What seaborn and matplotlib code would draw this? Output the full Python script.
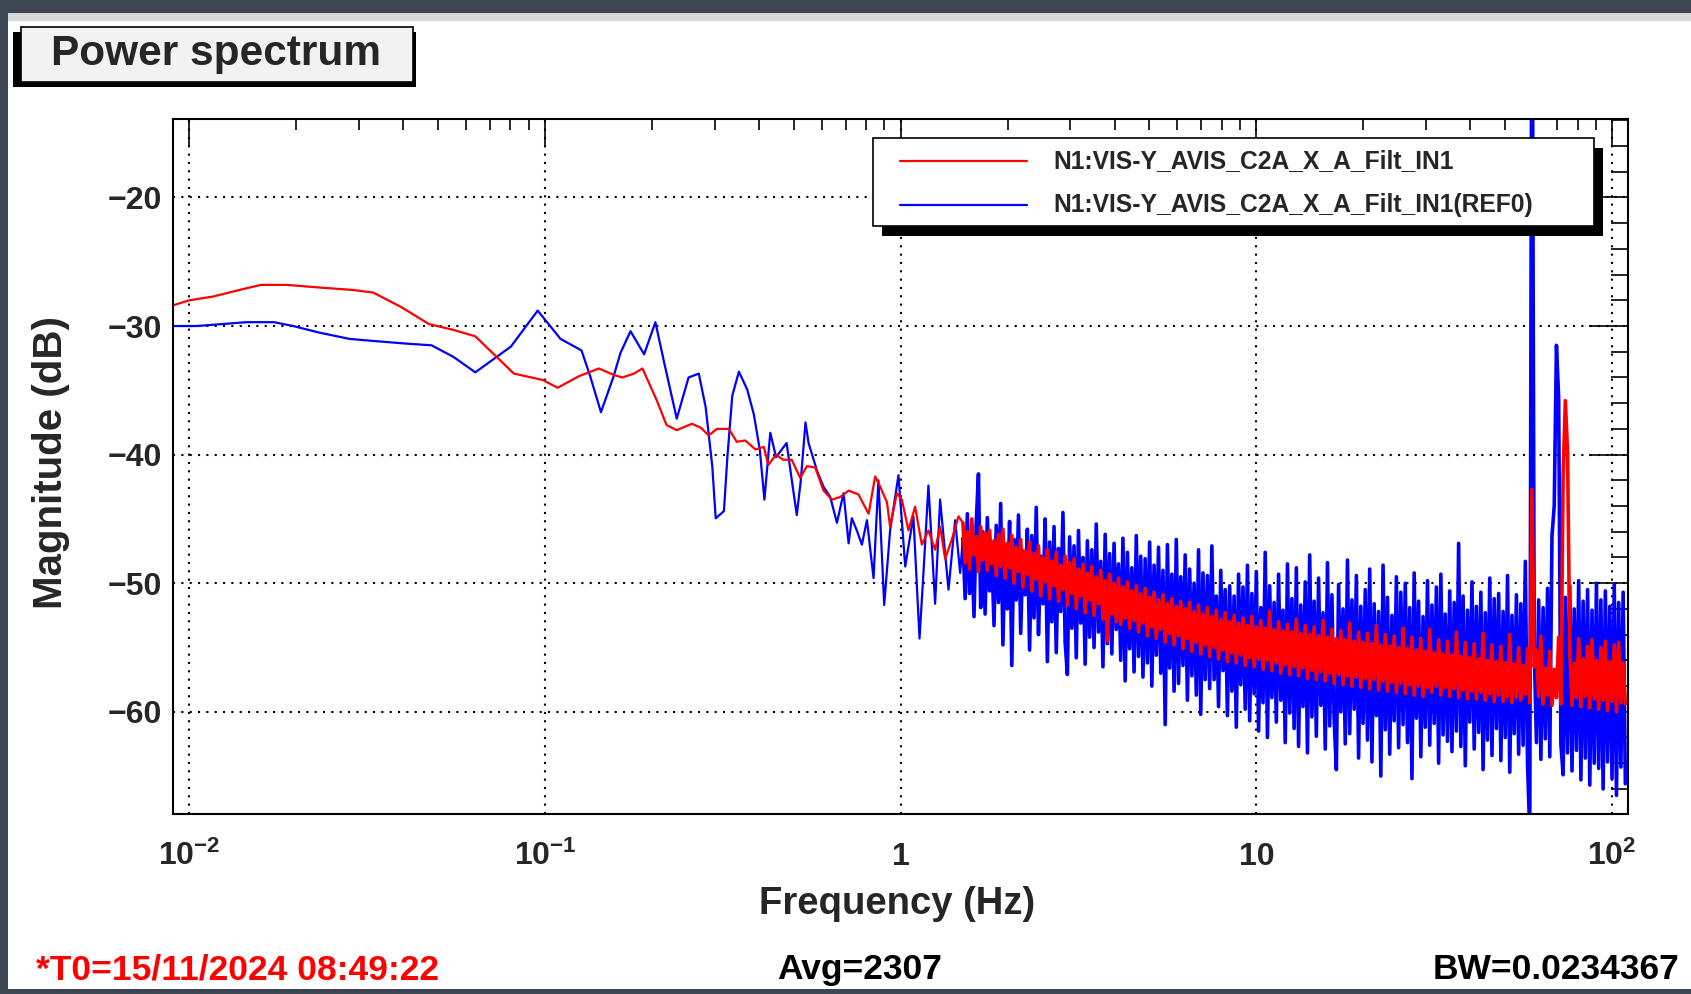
import numpy as np
import pandas as pd
import matplotlib
matplotlib.use("Agg")
import matplotlib.pyplot as plt
from matplotlib.patches import Rectangle
from matplotlib.lines import Line2D
from matplotlib.ticker import FixedLocator, MultipleLocator, LogLocator, NullFormatter
import seaborn as sns

W, H = 1691, 994

# ---------------- data ----------------
# low-frequency part, explicit points
red_lo_freq = [0.0085, 0.010, 0.0117, 0.0138, 0.0159, 0.0188, 0.0231, 0.0290, 0.0329, 0.0393,
               0.0472, 0.0553, 0.0637, 0.0818, 0.0987, 0.1085, 0.1247, 0.1418, 0.156, 0.165,
               0.178, 0.188, 0.206, 0.2197, 0.2347, 0.2587, 0.274, 0.2885, 0.3047, 0.3289,
               0.346, 0.3657, 0.3908, 0.4124, 0.4247, 0.4464, 0.4674, 0.494, 0.5218, 0.5452,
               0.575, 0.607, 0.6408, 0.676, 0.714, 0.761, 0.8126, 0.848, 0.876, 0.915,
               0.934, 0.976, 1.008, 1.052, 1.098, 1.147, 1.197, 1.25, 1.291, 1.334,
               1.393, 1.454]
red_lo_db = [-28.6, -28.0, -27.7, -27.2, -26.8, -26.8, -27.0, -27.2, -27.4, -28.5,
             -29.85, -30.3, -30.8, -33.7, -34.2, -34.8, -33.9, -33.3, -33.8, -34.0,
             -33.7, -33.3, -35.75, -37.7, -38.1, -37.6, -37.9, -38.5, -38.0, -38.0,
             -39.0, -38.9, -39.6, -39.4, -40.8, -40.0, -40.4, -40.4, -41.8, -40.9,
             -41.0, -42.8, -43.5, -43.3, -42.8, -43.1, -44.6, -41.7, -42.5, -43.7,
             -45.6, -43.0, -43.5, -45.9, -44.05, -47.0, -45.9, -47.4, -45.6, -48.1,
             -46.6, -44.8]

blue_lo_freq = [0.0085, 0.0105, 0.0145, 0.0173, 0.0196, 0.0231, 0.0282, 0.031, 0.040, 0.048,
                0.0553, 0.0637, 0.0802, 0.0954, 0.1106, 0.1267, 0.134, 0.1437, 0.156, 0.163,
                0.174, 0.190, 0.2044, 0.2154, 0.2347, 0.2534, 0.2707, 0.283, 0.2954, 0.302,
                0.3185, 0.3257, 0.3363, 0.351, 0.3705, 0.3868, 0.4017, 0.414, 0.430, 0.4464,
                0.478, 0.4944, 0.5105, 0.524, 0.540, 0.551, 0.581, 0.607, 0.634, 0.662,
                0.691, 0.714, 0.729, 0.753, 0.778, 0.804, 0.839, 0.866, 0.899, 0.934,
                0.986, 1.03, 1.086, 1.13, 1.159, 1.197, 1.25, 1.291, 1.363, 1.423,
                1.47]
blue_lo_db = [-30.0, -30.0, -29.7, -29.7, -30.0, -30.5, -31.0, -31.1, -31.35, -31.5,
              -32.4, -33.6, -31.6, -28.8, -31.0, -31.9, -33.9, -36.7, -33.9, -32.1,
              -30.4, -32.2, -29.7, -32.6, -37.2, -34.0, -33.7, -36.3, -40.9, -44.95,
              -44.4, -40.2, -35.4, -33.55, -34.95, -36.9, -39.6, -43.5, -38.3, -40.2,
              -39.1, -42.0, -44.7, -42.0, -37.5, -39.1, -41.2, -42.5, -43.3, -45.3,
              -43.0, -46.9, -44.95, -45.9, -47.0, -45.1, -49.6, -42.0, -51.7, -45.9,
              -41.6, -48.7, -44.8, -54.3, -49.2, -42.4, -51.6, -43.5, -50.5, -45.1,
              -49.2]

# dense part: values on a log frequency grid of 160 points per decade,
# starting at grid index DENSE_K0 (1.5 Hz)
DENSE_K0 = 28
POINTS_PER_DECADE = 160
red_dense_db = [
    -45.3, -48.4, -46.0, -48.9, -45.0, -47.8, -46.4, -49.1, -45.6, -48.2,
    -46.1, -49.0, -45.9, -48.5, -46.7, -49.4, -46.2, -48.7, -45.8, -49.6,
    -46.9, -48.8, -46.3, -50.0, -47.2, -49.1, -46.6, -50.3, -47.5, -49.3,
    -46.8, -50.6, -47.7, -49.7, -47.1, -51.0, -48.0, -49.9, -47.4, -51.2,
    -48.3, -50.2, -47.6, -51.4, -48.6, -50.5, -47.9, -51.7, -48.4, -50.8,
    -48.1, -52.0, -48.9, -51.0, -48.5, -52.3, -49.2, -51.3, -48.7, -52.5,
    -49.5, -51.6, -49.0, -52.8, -49.8, -54.5, -49.3, -52.4, -50.0, -53.0,
    -49.6, -53.2, -50.3, -52.7, -49.9, -53.5, -50.6, -52.9, -50.2, -53.8,
    -50.8, -53.1, -50.4, -54.1, -51.1, -53.4, -50.7, -54.3, -51.3, -53.6,
    -50.9, -54.6, -51.6, -53.9, -51.2, -54.8, -51.8, -54.1, -51.4, -55.1,
    -52.0, -54.3, -51.5, -55.3, -52.2, -54.6, -51.7, -55.5, -52.4, -54.8,
    -51.9, -55.7, -52.6, -55.0, -52.1, -55.9, -52.8, -55.2, -52.3, -56.1,
    -53.0, -55.4, -52.5, -56.2, -53.1, -55.6, -52.7, -56.4, -53.3, -55.8,
    -52.6, -56.5, -53.4, -55.9, -52.9, -56.7, -53.5, -56.0, -52.2, -56.8,
    -53.6, -56.2, -53.0, -57.0, -53.7, -56.3, -53.2, -57.1, -53.8, -56.5,
    -52.8, -57.2, -53.9, -56.6, -53.3, -57.4, -54.0, -56.8, -53.4, -57.5,
    -54.1, -56.9, -52.9, -57.6, -54.2, -57.0, -53.6, -57.8, -54.3, -57.1,
    -53.7, -57.9, -54.4, -57.2, -53.1, -58.0, -54.5, -57.3, -53.8, -58.1,
    -54.6, -57.4, -53.9, -58.2, -54.7, -57.5, -53.3, -58.3, -54.8, -57.6,
    -54.0, -58.4, -54.9, -57.7, -54.1, -58.5, -55.0, -57.8, -53.5, -58.6,
    -55.1, -57.9, -54.2, -58.7, -55.2, -58.0, -54.3, -58.8, -55.3, -58.1,
    -53.6, -58.5, -55.4, -58.0, -54.4, -58.7, -55.5, -58.1, -54.5, -58.8,
    -55.6, -58.2, -53.8, -58.9, -55.7, -58.3, -54.6, -59.0, -55.8, -58.4,
    -54.7, -59.0, -55.9, -58.5, -53.9, -59.1, -56.0, -58.6, -54.8, -59.2,
    -56.1, -58.7, -54.9, -59.2, -56.2, -58.8, -54.0, -59.3, -56.3, -58.9,
    -55.0, -59.1, -56.4, -58.6, -55.1, -59.3, -42.7, -56.5, -55.2, -58.8,
    -54.1, -59.4, -56.6, -58.7, -55.3, -59.5, -56.7, -58.9, -54.2, -59.4,
    -41.7, -35.8, -39.8, -55.4, -59.5, -56.2, -58.9, -54.3, -59.6, -55.9,
    -58.8, -54.9, -59.7, -54.4, -59.0, -56.0, -59.8, -55.0, -59.1, -54.5,
    -59.9, -56.1, -59.2, -54.8, -60.0, -54.6, -59.3, -56.2, -59.4]
blue_dense_db = [
    -46.5, -51.2, -44.6, -50.8, -47.2, -52.6, -45.3, -41.5, -51.9, -46.0,
    -52.4, -44.9, -50.6, -47.8, -53.3, -45.5, -51.5, -43.8, -54.8, -47.0,
    -52.0, -45.2, -56.4, -46.6, -51.3, -44.7, -53.9, -47.5, -50.9, -45.8,
    -55.2, -46.3, -52.7, -44.1, -54.0, -47.9, -51.6, -45.0, -56.1, -46.8,
    -53.0, -45.6, -55.4, -47.3, -52.2, -44.5, -54.6, -57.1, -46.4, -53.5,
    -47.1, -55.8, -45.9, -53.1, -48.0, -56.3, -46.7, -54.2, -47.4, -55.0,
    -45.4, -53.8, -48.3, -56.5, -46.2, -54.7, -47.7, -55.5, -46.9, -53.6,
    -48.5, -56.0, -46.5, -57.6, -47.6, -55.1, -48.8, -56.9, -46.3, -55.7,
    -47.9, -57.3, -48.1, -56.2, -46.8, -58.0, -48.6, -55.6, -47.2, -57.0,
    -49.0, -61.0, -47.0, -56.6, -49.3, -58.4, -46.6, -57.8, -49.5, -56.4,
    -47.8, -59.1, -48.9, -57.2, -50.0, -58.7, -47.4, -60.2, -49.2, -57.5,
    -49.4, -58.2, -47.1, -57.5, -51.0, -59.6, -49.0, -56.8, -50.5, -60.3,
    -50.2, -58.4, -51.0, -61.2, -49.3, -57.9, -50.3, -59.8, -48.6, -60.7,
    -50.8, -58.6, -49.1, -61.5, -51.9, -59.3, -47.6, -62.0, -50.2, -58.9,
    -51.5, -60.8, -49.3, -59.1, -52.1, -62.4, -48.5, -60.1, -51.2, -61.3,
    -48.8, -62.7, -51.7, -59.6, -49.9, -63.2, -47.8, -60.4, -51.4, -61.9,
    -49.6, -59.5, -52.3, -62.9, -48.4, -61.1, -50.9, -60.6, -64.5, -50.1,
    -60.0, -52.0, -62.5, -48.2, -61.7, -51.3, -59.8, -49.4, -63.6, -51.8,
    -60.9, -50.5, -62.2, -48.9, -63.9, -51.6, -60.3, -52.2, -65.0, -48.6,
    -61.4, -51.1, -63.3, -52.5, -60.7, -49.5, -62.8, -50.7, -61.0, -50.0,
    -62.4, -51.9, -65.2, -49.2, -60.5, -51.4, -63.5, -52.6, -61.2, -49.8,
    -62.6, -51.7, -60.9, -50.3, -64.0, -49.3, -61.8, -52.4, -62.3, -50.6,
    -63.1, -51.5, -61.5, -46.9, -62.7, -51.0, -64.2, -52.1, -60.8, -49.9,
    -62.9, -51.8, -61.6, -50.7, -64.5, -52.3, -62.2, -49.6, -63.4, -51.2,
    -61.3, -50.8, -63.8, -52.2, -62.0, -49.4, -64.7, -52.5, -61.7, -50.9,
    -63.3, -51.6, -62.6, -48.3, -64.1, -69.5, 5.0, -55.0, -62.4, -51.3,
    -63.7, -51.9, -62.1, -50.4, -63.5, -46.3, -44.0, -31.5, -35.6, -62.5,
    -64.9, -51.1, -63.2, -50.2, -64.6, -52.0, -63.0, -49.8, -65.3, -51.4,
    -63.6, -50.5, -65.7, -52.1, -64.0, -50.0, -64.4, -51.3, -66.0, -50.6,
    -63.9, -51.8, -65.2, -50.1, -66.5, -51.5, -64.3, -50.7, -65.6]

series_names = ["N1:VIS-Y_AVIS_C2A_X_A_Filt_IN1", "N1:VIS-Y_AVIS_C2A_X_A_Filt_IN1(REF0)"]
series_colors = ["#ff0000", "#0000ff"]
x_tick_vals = [0.01, 0.1, 1, 10, 100]
x_tick_labels = [r"$10^{-2}$", r"$10^{-1}$", "1", "10", r"$10^{2}$"]
y_tick_vals = [-60, -50, -40, -30, -20]
title_text = "Power spectrum"
x_label = "Frequency (Hz)"
y_label = "Magnitude (dB)"
footer_t0 = "*T0=15/11/2024 08:49:22"
footer_avg = "Avg=2307"
footer_bw = "BW=0.0234367"

# ---------------- style ----------------
sns.set_style("white")
plt.rcParams['font.family'] = ['Liberation Sans', 'DejaVu Sans']
plt.rcParams['font.weight'] = 'bold'
plt.rcParams['mathtext.fontset'] = 'custom'
for k in ['rm', 'it', 'bf', 'sf']:
    plt.rcParams['mathtext.' + k] = 'Liberation Sans:bold'
plt.rcParams['axes.unicode_minus'] = True

dense_freq = 10 ** ((DENSE_K0 + np.arange(len(red_dense_db))) / POINTS_PER_DECADE)


def frames(lo_f, lo_db, dense_db):
    lo = pd.DataFrame({'freq': list(lo_f) + [dense_freq[0]],
                       'db': list(lo_db) + [dense_db[0]]})
    hi = pd.DataFrame({'freq': dense_freq[:len(dense_db)], 'db': dense_db})
    return lo, hi


red_lo_df, red_hi_df = frames(red_lo_freq, red_lo_db, red_dense_db)
blue_lo_df, blue_hi_df = frames(blue_lo_freq, blue_lo_db, blue_dense_db)

fig = plt.figure(figsize=(W / 100, H / 100), dpi=100, facecolor='#3d4653')


def rect(x0, y0, x1, y1, **kw):
    return Rectangle((x0 / W, 1 - y1 / H), (x1 - x0) / W, (y1 - y0) / H,
                     transform=fig.transFigure, **kw)


# canvas
fig.add_artist(rect(8, 13, W + 2, 989, facecolor='white', edgecolor='none', zorder=-5))
fig.add_artist(rect(8, 13, W + 2, 21, facecolor='#d8d8d8', edgecolor='none', zorder=-4))

ax = fig.add_axes([173 / W, 1 - 814 / H, 1455 / W, 695.5 / H])
ax.set_facecolor('white')

for lo_df, hi_df, col in [(blue_lo_df, blue_hi_df, series_colors[1]),
                          (red_lo_df, red_hi_df, series_colors[0])]:
    sns.lineplot(data=lo_df, x='freq', y='db', color=col, lw=1.6,
                 estimator=None, sort=False, ax=ax)
    sns.lineplot(data=hi_df, x='freq', y='db', color=col, lw=2.6,
                 estimator=None, sort=False, ax=ax)

ax.set_xscale('log')
ax.set_xlim(0.009, 110.9)
ax.set_ylim(-67.95, -13.86)

ax.xaxis.set_major_locator(FixedLocator(x_tick_vals))
ax.set_xticklabels(x_tick_labels)
ax.xaxis.set_minor_locator(LogLocator(base=10, subs=np.arange(2, 10), numticks=30))
ax.xaxis.set_minor_formatter(NullFormatter())
ax.yaxis.set_major_locator(FixedLocator(y_tick_vals))
ax.yaxis.set_minor_locator(MultipleLocator(2))

ax.tick_params(which='both', direction='in', top=True, right=True, color='black', width=1.2)
ax.tick_params(axis='x', which='major', length=19.4, pad=36.5, labelsize=23)
ax.tick_params(axis='x', which='minor', length=7.8)
ax.tick_params(axis='y', which='major', length=28, pad=8, labelsize=23)
ax.tick_params(axis='y', which='minor', length=12.5)
for lab in ax.get_xticklabels():
    lab.set_verticalalignment('baseline')
    lab.set_fontweight('bold')
for lab in ax.get_yticklabels():
    lab.set_fontweight('bold')

ax.grid(True, which='major', color='black', linestyle=(0, (1, 3)), linewidth=1.5)
ax.set_axisbelow(True)
for s in ax.spines.values():
    s.set_linewidth(1.5)
    s.set_color('black')

ax.set_xlabel(x_label, fontsize=27.5, fontweight='bold')
ax.xaxis.set_label_coords(0.4976, -0.1294)
ax.xaxis.label.set_verticalalignment('center')
ax.set_ylabel(y_label, fontsize=29, fontweight='bold')
ax.yaxis.set_label_coords(-0.0841, 0.5053)
ax.yaxis.label.set_verticalalignment('center')

# title box with shadow
fig.add_artist(rect(13, 32, 416, 87, facecolor='black', edgecolor='none', zorder=5))
fig.add_artist(rect(21, 27, 413, 82, facecolor='#f2f2f2', edgecolor='black', lw=1.2, zorder=6))
fig.text(216 / W, 1 - 65 / H, title_text, fontsize=30.5, fontweight='bold',
         ha='center', va='baseline', zorder=7)

# legend box with shadow
fig.add_artist(rect(882, 148, 1603, 236, facecolor='black', edgecolor='none', zorder=5))
fig.add_artist(rect(873, 138, 1594, 226, facecolor='white', edgecolor='black', lw=1.2, zorder=6))
for i, (name, col) in enumerate(zip(series_names, series_colors)):
    yy = 1 - (160.7 + i * 44.3) / H
    fig.add_artist(Line2D([900 / W, 1027 / W], [yy, yy], color=col, lw=1.6,
                          transform=fig.transFigure, zorder=7))
    fig.text(1053.6 / W, yy, name, fontsize=17.7, fontweight='bold', ha='left',
             va='center', zorder=7)

# footer
fig.text(35.6 / W, 1 - 979 / H, footer_t0, color='#ff0000', fontsize=25.5,
         fontweight='bold', ha='left', va='baseline')
fig.text(860 / W, 1 - 979 / H, footer_avg, color='black', fontsize=25.5,
         fontweight='bold', ha='center', va='baseline')
fig.text(1679 / W, 1 - 979 / H, footer_bw, color='black', fontsize=25.5,
         fontweight='bold', ha='right', va='baseline')

fig.savefig('out.png', dpi=100, facecolor=fig.get_facecolor())
